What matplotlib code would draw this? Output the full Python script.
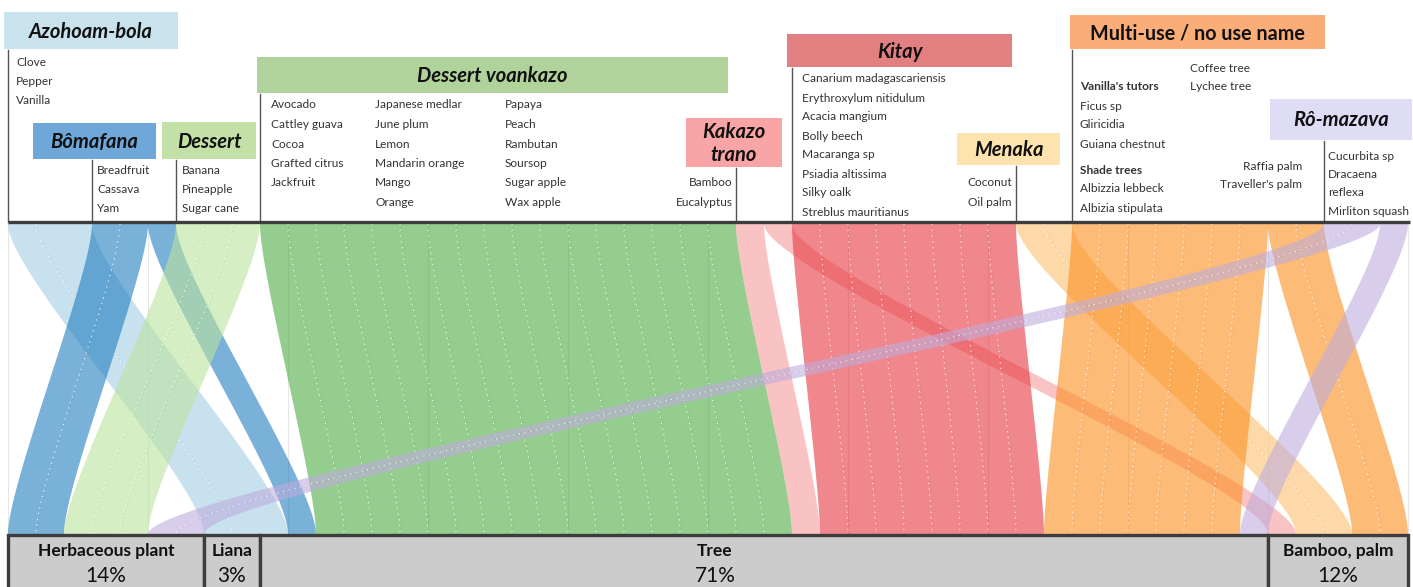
import matplotlib
matplotlib.use('Agg')
import matplotlib.pyplot as plt
from matplotlib.patches import Rectangle, Polygon
import matplotlib.colors as mcolors
import numpy as np

plt.rcParams['font.family'] = ['Lato', 'DejaVu Sans']

# ---------------- data ----------------
use_names = ['Azohoam-bola', 'Bômafana', 'Dessert', 'Dessert voankazo', 'Kakazo trano',
             'Kitay', 'Menaka', 'Multi-use / no use name', 'Rô-mazava']
life_forms = ['Herbaceous plant', 'Liana', 'Tree', 'Bamboo, palm']
life_pct = [14, 3, 71, 12]

azohoam_species = ['Clove', 'Pepper', 'Vanilla']
bomafana_species = ['Breadfruit', 'Cassava', 'Yam']
dessert_species = ['Banana', 'Pineapple', 'Sugar cane']
voankazo_col1 = ['Avocado', 'Cattley guava', 'Cocoa', 'Grafted citrus', 'Jackfruit']
voankazo_col2 = ['Japanese medlar', 'June plum', 'Lemon', 'Mandarin orange', 'Mango', 'Orange']
voankazo_col3 = ['Papaya', 'Peach', 'Rambutan', 'Soursop', 'Sugar apple', 'Wax apple']
kakazo_species = ['Bamboo', 'Eucalyptus']
kitay_species = ['Canarium madagascariensis', 'Erythroxylum nitidulum', 'Acacia mangium',
                 'Bolly beech', 'Macaranga sp', 'Psiadia altissima', 'Silky oalk',
                 'Streblus mauritianus']
menaka_species = ['Coconut', 'Oil palm']
multiuse_other = ['Coffee tree', 'Lychee tree']
multiuse_tutors = ['Ficus sp', 'Gliricidia', 'Guiana chestnut']
multiuse_shade = ['Albizzia lebbeck', 'Albizia stipulata']
multiuse_palms = ['Raffia palm', "Traveller's palm"]
romazava_species = ['Cucurbita sp', 'Dracaena', 'reflexa', 'Mirliton squash']

# flows (in top order): use -> life form, number of species
flow_use = ['Azohoam-bola', 'Azohoam-bola', 'Bômafana', 'Bômafana', 'Dessert',
            'Dessert voankazo', 'Kakazo trano', 'Kakazo trano', 'Kitay', 'Menaka',
            'Multi-use / no use name', 'Multi-use / no use name',
            'Rô-mazava', 'Rô-mazava']
flow_life = ['Liana', 'Tree', 'Herbaceous plant', 'Tree', 'Herbaceous plant',
             'Tree', 'Tree', 'Bamboo, palm', 'Tree', 'Bamboo, palm',
             'Tree', 'Bamboo, palm',
             'Herbaceous plant', 'Tree']
flow_n = [2, 1, 2, 1, 3, 17, 1, 1, 8, 2, 7, 2, 2, 1]

# ---------------- style ----------------
header_colors = {'Azohoam-bola': '#c9e3ee', 'Bômafana': '#6fa8d8', 'Dessert': '#c3e0a6',
                 'Dessert voankazo': '#afd39b', 'Kakazo trano': '#f9a5a5', 'Kitay': '#e27f81',
                 'Menaka': '#fde3ae', 'Multi-use / no use name': '#fbad78',
                 'Rô-mazava': '#dfddf6'}
ribbon_colors = {'Azohoam-bola': '#c8e1ee', 'Bômafana': '#7ab1d9', 'Dessert': '#d7eec5',
                 'Dessert voankazo': '#94ce8e', 'Kakazo trano': '#fac3c3', 'Kitay': '#f0878c',
                 'Menaka': '#fddaa9', 'Multi-use / no use name': '#fdbb78',
                 'Rô-mazava': '#d8cdea'}
ALPHA = 0.6


def base_color(obs):
    c = np.array(mcolors.to_rgb(obs))
    return tuple(np.clip((c - (1 - ALPHA)) / ALPHA, 0, 1))


W, H = 1413, 587
fig = plt.figure(figsize=(W / 100, H / 100), dpi=100)
ax = fig.add_axes([0, 0, 1, 1])
ax.set_xlim(0, W)
ax.set_ylim(H, 0)
ax.axis('off')

X0, X1 = 8, 1408
Y_TOP, Y_BOT = 224, 534
total = sum(flow_n)
U = (X1 - X0) / total
K = 0.16 * (Y_BOT - Y_TOP)

# top positions (flow order) and bottom positions (grouped by life form)
top_start = []
acc = 0
for n in flow_n:
    top_start.append(X0 + acc * U)
    acc += n
bot_start = [0] * len(flow_n)
acc = 0
for lf in life_forms:
    for i in range(len(flow_n)):
        if flow_life[i] == lf:
            bot_start[i] = X0 + acc * U
            acc += flow_n[i]


def curve(xa, xb, npts=120):
    t = np.linspace(0, 1, npts)
    x = (1 - t) ** 3 * xa + 3 * (1 - t) ** 2 * t * xa + 3 * (1 - t) * t ** 2 * xb + t ** 3 * xb
    y = ((1 - t) ** 3 * Y_TOP + 3 * (1 - t) ** 2 * t * (Y_TOP + K)
         + 3 * (1 - t) * t ** 2 * (Y_BOT - K) + t ** 3 * Y_BOT)
    return x, y


# faint grid lines
for k in range(11):
    gx = X0 + k * 5 * U
    ax.plot([gx, gx], [Y_TOP, Y_BOT], color='#e6e6e6', lw=0.8, zorder=1)

# ribbons
for i, n in enumerate(flow_n):
    xt0, xb0 = top_start[i], bot_start[i]
    xt1, xb1 = xt0 + n * U, xb0 + n * U
    lx, ly = curve(xt0, xb0)
    rx, ry = curve(xt1, xb1)
    px = np.concatenate([lx, rx[::-1]])
    py = np.concatenate([ly, ry[::-1]])
    col = base_color(ribbon_colors[flow_use[i]])
    ax.add_patch(Polygon(np.column_stack([px, py]), closed=True, fc=col, ec='none',
                         alpha=ALPHA, zorder=5 + i))
    for s in range(1, n):
        sx, sy = curve(xt0 + s * U, xb0 + s * U)
        ax.plot(sx, sy, color='white', lw=0.8, alpha=0.8, ls=(0, (1.2, 4)), zorder=5 + i)
        ax.plot(sx + 1.2, sy, color=(0, 0, 0), lw=0.6, alpha=0.12, ls=(2, (1.2, 4)), zorder=5 + i)

# top axis line
ax.plot([X0, 1410], [222, 222], color='#3d3d3d', lw=2.4, solid_capstyle='butt', zorder=60)

# header boxes: x0, x1, y0, y1
header_layout = {'Azohoam-bola': (4, 178, 12, 49),
                 'Bômafana': (33, 156, 123, 159),
                 'Dessert': (162, 256, 122, 159),
                 'Dessert voankazo': (257, 728, 57, 93),
                 'Kakazo trano': (686, 782, 118, 167),
                 'Kitay': (787, 1012, 34, 67),
                 'Menaka': (957, 1060, 133, 165),
                 'Multi-use / no use name': (1070, 1325, 15, 49),
                 'Rô-mazava': (1270, 1412, 99, 140)}
header_text = {'Kakazo trano': 'Kakazo\ntrano'}
line_top = {'Azohoam-bola': 50, 'Bômafana': 160, 'Dessert': 160, 'Dessert voankazo': 94,
            'Kakazo trano': 168, 'Kitay': 68, 'Menaka': 166,
            'Multi-use / no use name': 50, 'Rô-mazava': 141}

seg_start = {}
for i, u in enumerate(flow_use):
    seg_start.setdefault(u, top_start[i])

for u in use_names:
    x0, x1, y0, y1 = header_layout[u]
    ax.add_patch(Rectangle((x0, y0), x1 - x0, y1 - y0, fc=header_colors[u], ec='none', zorder=20))
    style = 'normal' if u.startswith('Multi') else 'italic'
    fs = 14.2 if u.startswith('Multi') else 14.5
    ax.text((x0 + x1) / 2, (y0 + y1) / 2 + 1, header_text.get(u, u), ha='center', va='center',
            fontsize=fs, fontweight='bold', fontstyle=style, color='#111111',
            linespacing=1.2, zorder=21)
    sx = seg_start[u]
    ax.plot([sx, sx], [line_top[u], 222], color='#555555', lw=1.0, zorder=19)

LS = 8.6
TC = '#333333'


def col(names, x, y0, dy=19.5, ha='left', weight='normal'):
    for k, nm in enumerate(names):
        ax.text(x, y0 + k * dy, nm, ha=ha, va='center', fontsize=LS, color=TC,
                fontweight=weight, zorder=22)


col(azohoam_species, 16, 62)
col(bomafana_species, 97, 170)
col(dessert_species, 182, 170)
col(voankazo_col1, 271, 105)
col(voankazo_col2, 375, 105)
col(voankazo_col3, 505, 105)
col(kakazo_species, 733, 183, ha='right')
col(kitay_species, 802, 79, dy=19)
col(menaka_species, 1012, 183, ha='right')
col(multiuse_other, 1190, 68, dy=19)
col(["Vanilla's tutors"], 1080, 87, weight='bold')
col(multiuse_tutors, 1080, 106, dy=19)
col(['Shade trees'], 1080, 170, weight='bold')
col(multiuse_shade, 1080, 189, dy=19)
col(multiuse_palms, 1302, 166, dy=19, ha='right')
col(romazava_species, 1328, 156, dy=18.5)

# bottom life-form boxes
life_n = {lf: 0 for lf in life_forms}
for lf, n in zip(flow_life, flow_n):
    life_n[lf] += n
label_x = {'Tree': 715}
acc = 0
for lf, pct in zip(life_forms, life_pct):
    bx0 = X0 + acc * U
    bx1 = bx0 + life_n[lf] * U
    acc += life_n[lf]
    ax.add_patch(Rectangle((bx0, 535), bx1 - bx0, 70, fc='#cccccc', ec='#3d3d3d', lw=2.4,
                           zorder=30))
    cx = label_x.get(lf, (bx0 + bx1) / 2)
    ax.text(cx, 551, lf, ha='center', va='center', fontsize=12.5, fontweight='bold',
            color='#111111', zorder=31)
    ax.text(cx, 576, f'{pct}%', ha='center', va='center', fontsize=15,
            color='#111111', zorder=31)

fig.savefig('out.png', dpi=100)
